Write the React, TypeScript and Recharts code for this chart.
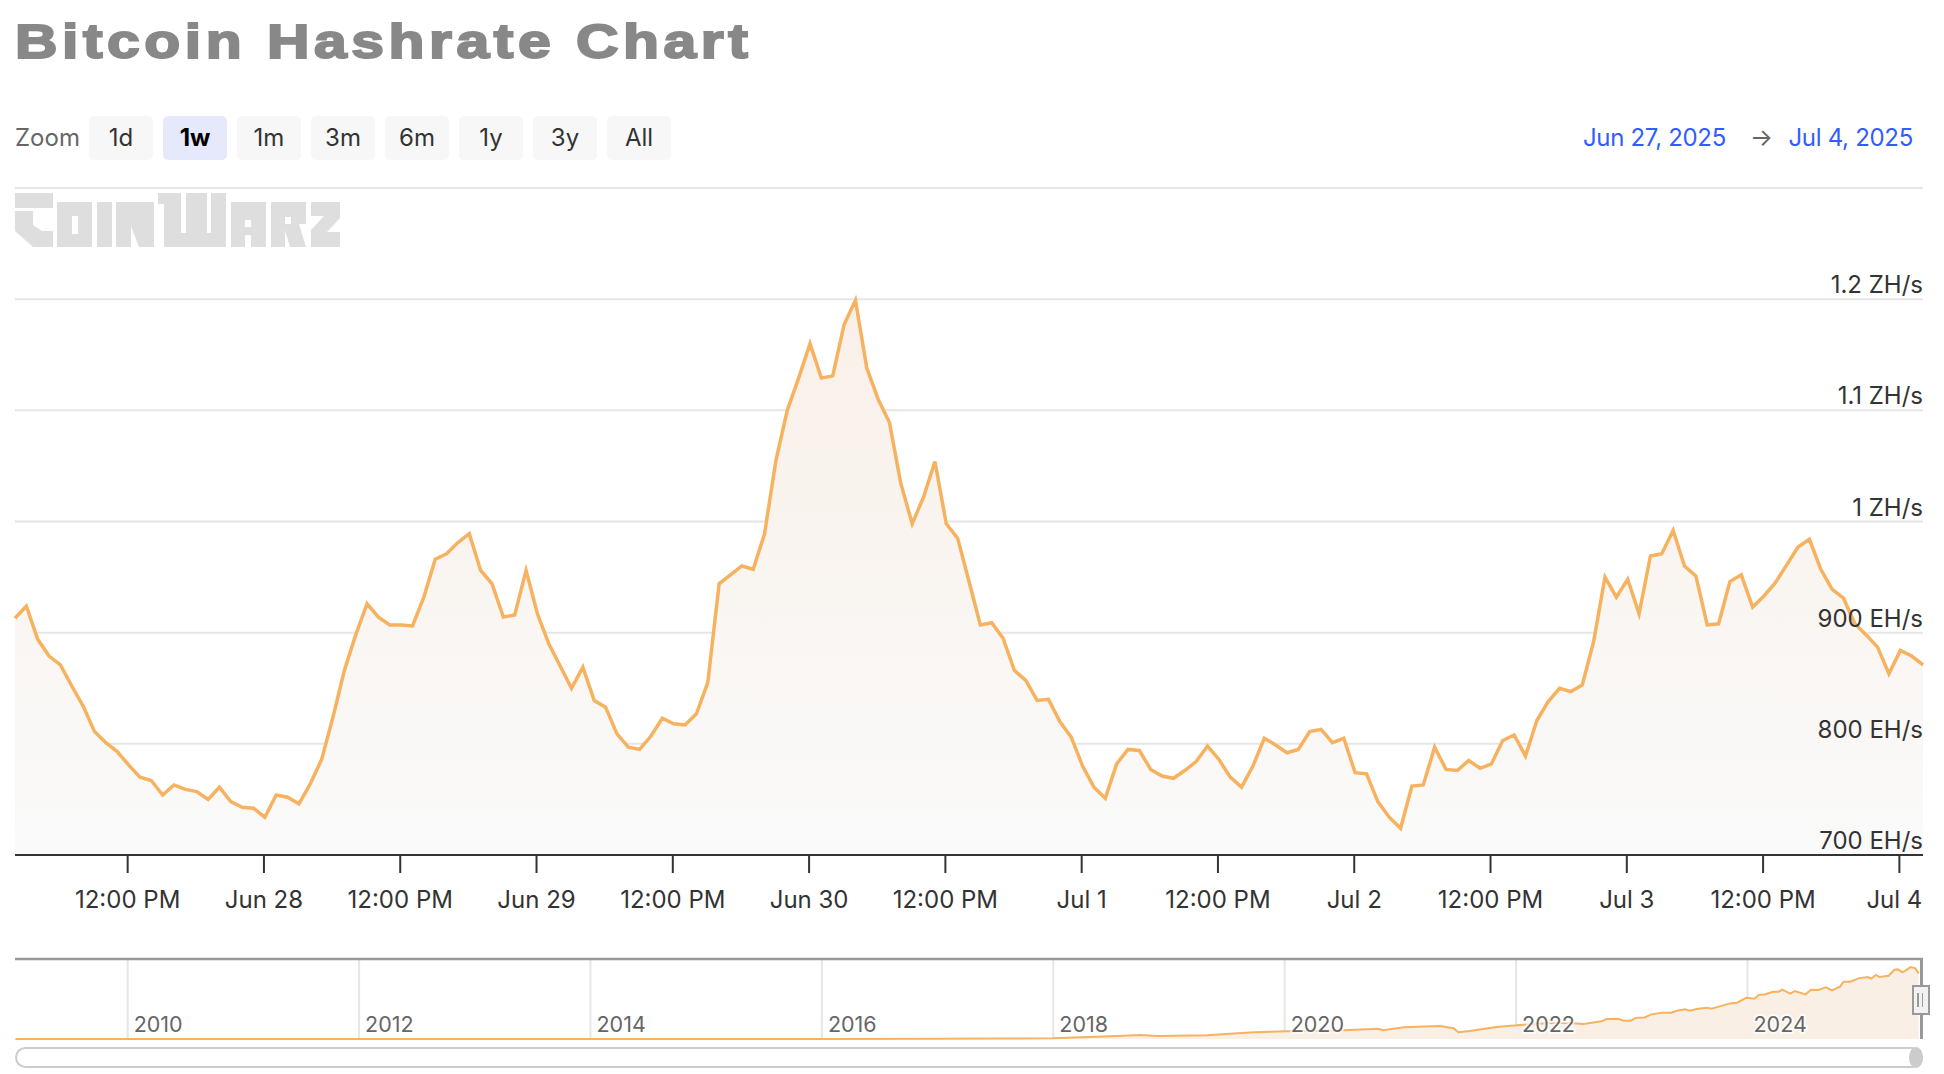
import { Area, AreaChart, CartesianGrid, ReferenceLine, XAxis, YAxis } from "recharts";

const FONT = "Inter, sans-serif";
const LINE = "#f7b25f";
const GRID = "#e6e6e6";

const rangeButtons = ["1d", "1w", "1m", "3m", "6m", "1y", "3y", "All"];

// hourly readings in EH/s, first one is Jun 27 02:05
const hashrate = [
  913, 924, 894, 879, 871, 852, 834, 811, 801, 793, 781, 770, 767, 754, 763, 759, 757, 750, 761, 748,
  743, 742, 734, 754, 752, 746, 764, 786, 824, 866, 898, 926, 914, 907, 907, 906, 932, 966, 971, 981,
  989, 956, 944, 914, 916, 956, 917, 890, 870, 850, 869, 839, 833, 809, 797, 795, 807, 823, 818, 817,
  827, 855, 944, 952, 960, 957, 989, 1055, 1100, 1129, 1160, 1129, 1131, 1177, 1199, 1138, 1110, 1089, 1034, 998,
  1022, 1054, 998, 985, 946, 907, 909, 895, 866, 857, 839, 840, 820, 806, 780, 761, 751, 782, 795, 794,
  777, 771, 769, 776, 784, 798, 786, 770, 761, 780, 805, 799, 792, 795, 811, 813, 801, 805, 774, 773,
  748, 734, 724, 762, 763, 797, 777, 776, 785, 778, 782, 803, 808, 789, 821, 838, 850, 847, 853, 892,
  950, 932, 948, 917, 969, 971, 992, 960, 951, 907, 908, 946, 952, 923, 933, 945, 961, 977, 984, 957,
  939, 931, 908, 898, 887, 863, 884, 879, 871,
];

const hourTicks = [9.92, 21.92, 33.92, 45.92, 57.92, 69.92, 81.92, 93.92, 105.92, 117.92, 129.92, 141.92, 153.92, 165.92];
const hourLabels = ["12:00 PM", "Jun 28", "12:00 PM", "Jun 29", "12:00 PM", "Jun 30", "12:00 PM", "Jul 1", "12:00 PM", "Jul 2", "12:00 PM", "Jul 3", "12:00 PM", "Jul 4"];

const rateTicks = [700, 800, 900, 1000, 1100, 1200, 1300];
const rateLabels = ["700 EH/s", "800 EH/s", "900 EH/s", "1 ZH/s", "1.1 ZH/s", "1.2 ZH/s", ""];

// full history for the navigator strip
const historyYears = [
  2009.03, 2012, 2014, 2016, 2017, 2017.54, 2018, 2018.55, 2018.75, 2018.9, 2019.33, 2019.73, 2020.02, 2020.51, 2020.81, 2020.85,
  2021.03, 2021.34, 2021.46, 2021.5, 2021.6, 2021.83, 2022.06, 2022.29, 2022.46, 2022.58, 2022.74, 2022.78, 2022.88, 2022.93, 2022.99,
  2023.04, 2023.11, 2023.17, 2023.26, 2023.34, 2023.39, 2023.46, 2023.5, 2023.56, 2023.65, 2023.69, 2023.76, 2023.85, 2023.91, 2023.99,
  2024.06, 2024.1, 2024.15, 2024.22, 2024.27, 2024.3, 2024.37, 2024.41, 2024.5, 2024.55, 2024.61, 2024.68, 2024.73, 2024.8, 2024.83,
  2024.89, 2024.96, 2025.04, 2025.07, 2025.11, 2025.14, 2025.22, 2025.27, 2025.3, 2025.34, 2025.41, 2025.45, 2025.48,
];
const historyRates = [
  0, 0, 0, 1, 3, 5, 9, 39, 52, 39, 48, 87, 100, 113, 134, 113,
  152, 169, 139, 87, 104, 156, 186, 208, 208, 195, 230, 260, 264, 238, 238,
  277, 281, 320, 342, 342, 368, 385, 368, 390, 407, 394, 424, 463, 472, 537,
  524, 576, 580, 615, 615, 641, 589, 624, 580, 641, 637, 671, 632, 680, 745,
  745, 788, 806, 784, 832, 806, 823, 901, 905, 866, 935, 918, 853,
];
const yearTicks = [2010, 2012, 2014, 2016, 2018, 2020, 2022, 2024];

const mainData = hashrate.map((rate, i) => ({ hour: i, rate }));
const historyData = historyYears.map((year, i) => ({ year, rate: historyRates[i] }));

const HourTick = ({ x, y, payload, index }: any) => {
  const last = index === hourLabels.length - 1;
  return (
    <text x={last ? x + 23 : x} y={y} dy={33} textAnchor={last ? "end" : "middle"} fontFamily={FONT} fontSize={24} fill="#333">
      {hourLabels[hourTicks.indexOf(payload.value)]}
    </text>
  );
};

const RateTick = ({ y, payload }: any) => (
  <text x={1923} y={y} dy={-6} textAnchor="end" fontFamily={FONT} fontSize={24} fill="#333">
    {rateLabels[rateTicks.indexOf(payload.value)]}
  </text>
);

const YearTick = ({ x, payload }: any) => (
  <text x={x + 6} y={82} fontFamily={FONT} fontSize={21.5} fill="#666" stroke="rgba(255,255,255,0.75)" strokeWidth={4} paintOrder="stroke">
    {payload.value}
  </text>
);

const Logo = () => (
  <svg width={340} height={64} viewBox="0 0 340 64" style={{ position: "absolute", left: 0, top: 188 }}>
    <title>CoinWarz</title>
    <g fill="#dedede" fillRule="evenodd">
      <polygon points="15,5 53,5 53,20 15,20" />
      <polygon points="15,23 33,23 33,37 42,43 53,43 53,59 33,59 15,43" />
      <path d="M57 14 H92 V59 H57 Z M72 28 V46 H78 V28 Z" />
      <rect x={97} y={14} width={15} height={45} />
      <polygon points="116,14 154,14 154,59 139,59 131,38 131,59 116,59" />
      <polygon points="158,5 181,5 181,45 186,45 186,5 207,5 207,45 211,45 211,5 226,5 226,59 164,59 164,16 158,16" />
      <path d="M231 14 H266 V59 H251 V47 H245 V59 H231 Z M245 32 V39 H251 V32 Z" />
      <path d="M271 14 H306 V36 H299 L306 59 H290 L285 42 V59 H271 Z M285 29 V36 H291 V29 Z" />
      <polygon points="311,14 340,14 340,30 327,44 340,44 340,59 311,59 311,42 324,28 311,28" />
    </g>
  </svg>
);

const App = () => {
  return (
    <div style={{ position: "absolute", left: 0, top: 0, width: 1944, height: 1074, background: "#fff", fontFamily: FONT, overflow: "hidden" }}>
      <div style={{ position: "absolute", left: 15, top: 13, fontFamily: "'Liberation Sans', sans-serif", fontWeight: 700, fontSize: 49, letterSpacing: 3.8, color: "#888", WebkitTextStroke: "2px #888", whiteSpace: "nowrap", transform: "scaleX(1.2)", transformOrigin: "left top" }}>
        Bitcoin Hashrate Chart
      </div>

      <div style={{ position: "absolute", left: 15, top: 116, height: 44, lineHeight: "44px", fontSize: 24, color: "#666" }}>Zoom</div>
      {rangeButtons.map((label, i) => (
        <div
          key={label}
          style={{
            position: "absolute", left: 89 + i * 74, top: 116, width: 64, height: 44, lineHeight: "44px", borderRadius: 5, textAlign: "center", fontSize: 24,
            background: label === "1w" ? "#e6e9fc" : "#f7f7f7", color: label === "1w" ? "#000" : "#333", fontWeight: label === "1w" ? 700 : 400,
          }}
        >
          {label}
        </div>
      ))}

      <div style={{ position: "absolute", right: 1944 - 1726, top: 116, height: 44, lineHeight: "44px", fontSize: 24, letterSpacing: -0.3, color: "#335cff", whiteSpace: "nowrap" }}>Jun 27, 2025</div>
      <div style={{ position: "absolute", left: 1750, top: 116, height: 44, lineHeight: "44px", fontSize: 24, color: "#666" }}>→</div>
      <div style={{ position: "absolute", right: 1944 - 1913, top: 116, height: 44, lineHeight: "44px", fontSize: 24, letterSpacing: -0.3, color: "#335cff", whiteSpace: "nowrap" }}>Jul 4, 2025</div>

      <Logo />

      <div style={{ position: "absolute", left: 0, top: 0 }}>
        <AreaChart width={1944} height={930} data={mainData} margin={{ top: 188, right: 21, bottom: 0, left: 15 }}>
          <defs>
            <linearGradient id="rateFill" x1="0" y1="0" x2="0" y2="1">
              <stop offset="0%" stopColor="#f9f0e8" />
              <stop offset="100%" stopColor="#fafafa" />
            </linearGradient>
          </defs>
          <CartesianGrid horizontal vertical={false} stroke={GRID} strokeWidth={2} />
          <XAxis
            dataKey="hour"
            type="number"
            domain={[0, 168]}
            ticks={hourTicks}
            interval={0}
            height={75}
            tick={HourTick}
            tickSize={18}
            axisLine={{ stroke: "#333", strokeWidth: 2 }}
            tickLine={{ stroke: "#333", strokeWidth: 2 }}
          />
          <YAxis
            type="number"
            orientation="right"
            mirror
            domain={[700, 1300]}
            ticks={rateTicks}
            interval={0}
            width={1}
            axisLine={false}
            tickLine={false}
            tick={RateTick}
          />
          <Area dataKey="rate" type="linear" stroke={LINE} strokeWidth={3.5} fill="url(#rateFill)" fillOpacity={1} dot={false} activeDot={false} isAnimationActive={false} />
        </AreaChart>
      </div>

      <div style={{ position: "absolute", left: 0, top: 950 }}>
        <AreaChart width={1944} height={100} data={historyData} margin={{ top: 9, right: 21, bottom: 11, left: 15 }}>
          <CartesianGrid horizontal={false} vertical verticalValues={yearTicks} stroke={GRID} strokeWidth={2} />
          <XAxis dataKey="year" type="number" mirror domain={[2009.026, 2025.517]} ticks={yearTicks} interval={0} height={1} tick={YearTick} axisLine={false} tickLine={false} />
          <YAxis type="number" hide domain={[0, 1040]} />
          <ReferenceLine y={1040} stroke="#999" strokeWidth={2.5} />
          <Area dataKey="rate" type="linear" stroke={LINE} strokeWidth={2} fill="#f9efe5" fillOpacity={1} dot={false} activeDot={false} isAnimationActive={false} />
        </AreaChart>
      </div>

      <div style={{ position: "absolute", left: 1920, top: 959, width: 3, height: 80, background: "#999" }} />
      <div style={{ position: "absolute", left: 1912, top: 985, width: 14, height: 26, background: "#f2f2f2", border: "2.5px solid #999" }}>
        <div style={{ position: "absolute", left: 3, top: 6, width: 1.5, height: 14, background: "#999" }} />
        <div style={{ position: "absolute", left: 7.5, top: 6, width: 1.5, height: 14, background: "#999" }} />
      </div>

      <div style={{ position: "absolute", left: 15, top: 1047, width: 1904, height: 17, border: "2px solid #ccc", borderRadius: 11 }} />
      <div style={{ position: "absolute", left: 1909, top: 1047, width: 14, height: 21, background: "#ccc", borderRadius: "50%" }} />
    </div>
  );
};

export default App;
